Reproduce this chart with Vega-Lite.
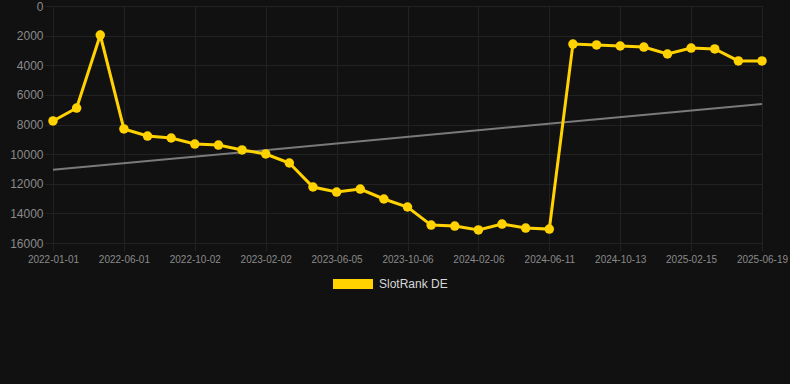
{
  "$schema": "https://vega.github.io/schema/vega-lite/v6.json",
  "width": 709,
  "height": 237,
  "autosize": {"type": "none"},
  "padding": {"left": 53, "top": 6, "right": 28, "bottom": 141},
  "background": "#111111",
  "config": {
    "view": {"stroke": null},
    "font": "Liberation Sans, Arial, sans-serif",
    "axis": {
      "domain": false,
      "gridColor": "#222222",
      "gridWidth": 1,
      "tickColor": "#222222",
      "tickSize": 8,
      "labelColor": "#8a8a8a",
      "labelFont": "Liberation Sans, Arial, sans-serif",
      "title": null
    }
  },
  "datasets": {
    "rank": [
      {"date": "2022-01-01", "rank": 7760},
      {"date": "2022-02-20", "rank": 6890},
      {"date": "2022-04-11", "rank": 1960},
      {"date": "2022-06-01", "rank": 8300},
      {"date": "2022-07-12", "rank": 8780},
      {"date": "2022-08-22", "rank": 8910},
      {"date": "2022-10-02", "rank": 9320},
      {"date": "2022-11-12", "rank": 9390},
      {"date": "2022-12-23", "rank": 9720},
      {"date": "2023-02-02", "rank": 9990},
      {"date": "2023-03-15", "rank": 10600},
      {"date": "2023-04-25", "rank": 12220},
      {"date": "2023-06-05", "rank": 12560},
      {"date": "2023-07-16", "rank": 12360},
      {"date": "2023-08-26", "rank": 13030},
      {"date": "2023-10-06", "rank": 13570},
      {"date": "2023-11-16", "rank": 14790},
      {"date": "2023-12-27", "rank": 14860},
      {"date": "2024-02-06", "rank": 15120},
      {"date": "2024-03-18", "rank": 14720},
      {"date": "2024-04-30", "rank": 14990},
      {"date": "2024-06-11", "rank": 15060},
      {"date": "2024-07-22", "rank": 2570},
      {"date": "2024-09-01", "rank": 2630},
      {"date": "2024-10-13", "rank": 2700},
      {"date": "2024-11-24", "rank": 2770},
      {"date": "2025-01-04", "rank": 3240},
      {"date": "2025-02-15", "rank": 2840},
      {"date": "2025-03-28", "rank": 2900},
      {"date": "2025-05-08", "rank": 3710},
      {"date": "2025-06-19", "rank": 3710}
    ],
    "trend": [
      {"date": "2022-01-01", "rank": 11060},
      {"date": "2025-06-19", "rank": 6610}
    ]
  },
  "encoding": {
    "x": {
      "field": "date",
      "type": "ordinal",
      "sort": "ascending",
      "scale": {"type": "point", "padding": 0},
      "axis": {
        "values": ["2022-01-01", "2022-06-01", "2022-10-02", "2023-02-02", "2023-06-05", "2023-10-06", "2024-02-06", "2024-06-11", "2024-10-13", "2025-02-15", "2025-06-19"],
        "labelAngle": 0,
        "labelFontSize": 10,
        "labelPadding": 3,
        "labelOverlap": false,
        "labelFlush": false,
        "labelBound": false,
        "grid": true
      }
    },
    "y": {
      "field": "rank",
      "type": "quantitative",
      "scale": {"domain": [0, 16000], "reverse": true, "nice": false, "zero": false},
      "axis": {
        "values": [0, 2000, 4000, 6000, 8000, 10000, 12000, 14000, 16000],
        "labelFontSize": 12,
        "labelPadding": 2,
        "labelOverlap": false,
        "labelFlush": false,
        "labelBound": false,
        "format": "d",
        "grid": true
      }
    }
  },
  "layer": [
    {
      "data": {"name": "trend"},
      "mark": {"type": "line", "color": "#7a7a7a", "strokeWidth": 2}
    },
    {
      "data": {"name": "rank"},
      "mark": {"type": "line", "strokeWidth": 3, "point": {"size": 90, "filled": true, "opacity": 1}},
      "encoding": {
        "color": {
          "datum": "SlotRank DE",
          "type": "nominal",
          "scale": {"range": ["#FFD200"]},
          "legend": {
            "title": null,
            "orient": "none",
            "legendX": 280,
            "legendY": 258,
            "padding": 0,
            "symbolType": "M-1,-0.25H1V0.25H-1Z",
            "symbolSize": 1600,
            "symbolFillColor": "#FFD200",
            "symbolStrokeColor": "#FFD200",
            "symbolStrokeWidth": 0,
            "labelColor": "#d8d8d8",
            "labelFontSize": 12,
            "labelOffset": 6,
            "labelFont": "Liberation Sans, Arial, sans-serif"
          }
        }
      }
    }
  ]
}
